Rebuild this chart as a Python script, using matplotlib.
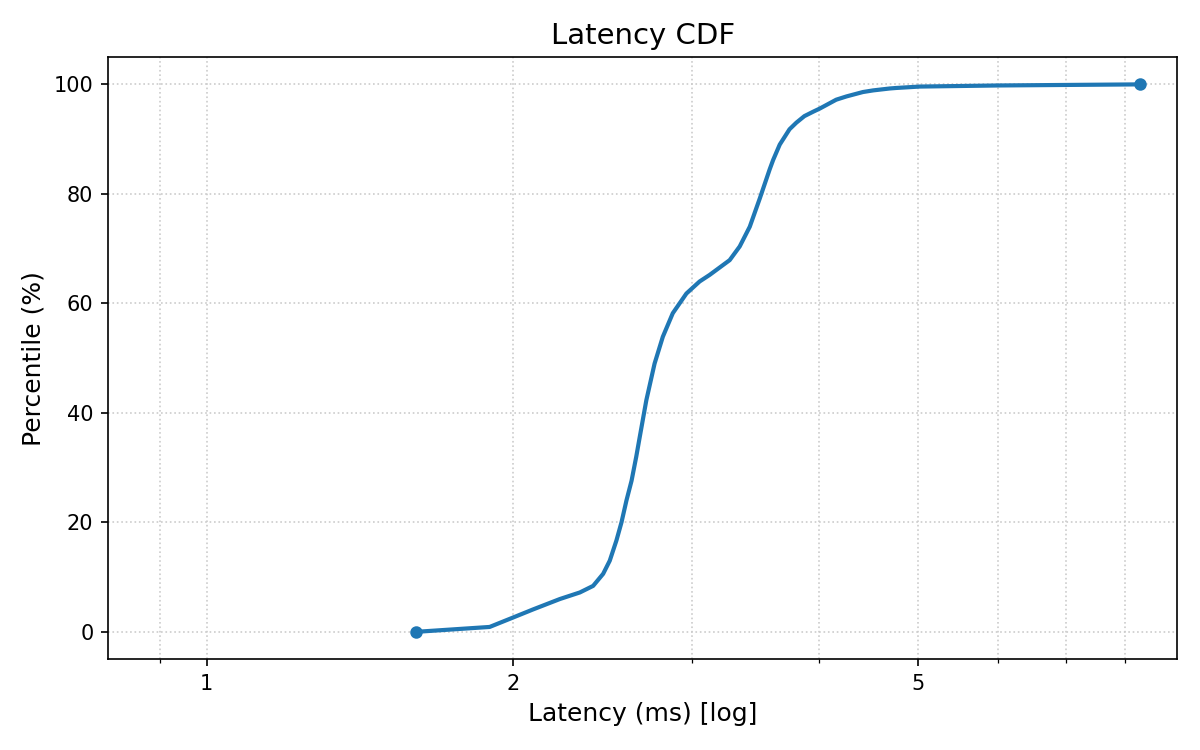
import matplotlib
matplotlib.use("Agg")
import matplotlib.pyplot as plt
from matplotlib.ticker import NullFormatter, FixedLocator, FixedFormatter

latency_ms = [1.605, 1.898, 2.0, 2.094, 2.225, 2.328, 2.399, 2.454, 2.491,
              2.529, 2.558, 2.587, 2.617, 2.645, 2.666, 2.706, 2.757, 2.809, 2.873,
              2.963, 3.053, 3.123, 3.268, 3.343, 3.42, 3.499, 3.578, 3.606, 3.66,
              3.742, 3.80, 3.87, 3.947, 4.009, 4.159, 4.257, 4.418, 4.522, 4.695,
              4.77, 5.024, 6.0, 8.28]
percentile = [0.0, 0.9, 2.6, 4.1, 6.0, 7.2, 8.4, 10.6, 13.0,
              16.7, 20.0, 24.0, 27.6, 32.0, 35.6, 42.3, 49.0, 53.9, 58.2,
              61.8, 64.0, 65.2, 67.9, 70.4, 74.0, 79.2, 84.5, 86.2, 89.0,
              91.8, 93.0, 94.2, 95.0, 95.6, 97.2, 97.8, 98.6, 98.9, 99.25,
              99.35, 99.6, 99.8, 100.0]
major_ticks = [1, 2, 5]
major_labels = ["1", "2", "5"]
minor_ticks = [0.9, 3, 4, 6, 7, 8]

fig, ax = plt.subplots(figsize=(8, 5), dpi=150)
fig.subplots_adjust(left=0.09, right=0.981, top=0.924, bottom=0.121)

ax.plot(latency_ms, percentile, color="#1f77b4", linewidth=2)
ax.plot([latency_ms[0], latency_ms[-1]], [percentile[0], percentile[-1]],
        "o", color="#1f77b4", markersize=5)

ax.set_xscale("log")
ax.set_xlim(0.8, 9.0)
ax.set_ylim(-5, 105)
ax.xaxis.set_major_locator(FixedLocator(major_ticks))
ax.xaxis.set_major_formatter(FixedFormatter(major_labels))
ax.xaxis.set_minor_locator(FixedLocator(minor_ticks))
ax.xaxis.set_minor_formatter(NullFormatter())

ax.grid(True, which="both", axis="x", linestyle=":", color="#cccccc", linewidth=0.8)
ax.grid(True, which="major", axis="y", linestyle=":", color="#cccccc", linewidth=0.8)

ax.set_title("Latency CDF", fontsize=14)
ax.set_xlabel("Latency (ms) [log]", fontsize=12)
ax.set_ylabel("Percentile (%)", fontsize=12)
ax.tick_params(labelsize=10)

fig.savefig("out.png", dpi=150)
